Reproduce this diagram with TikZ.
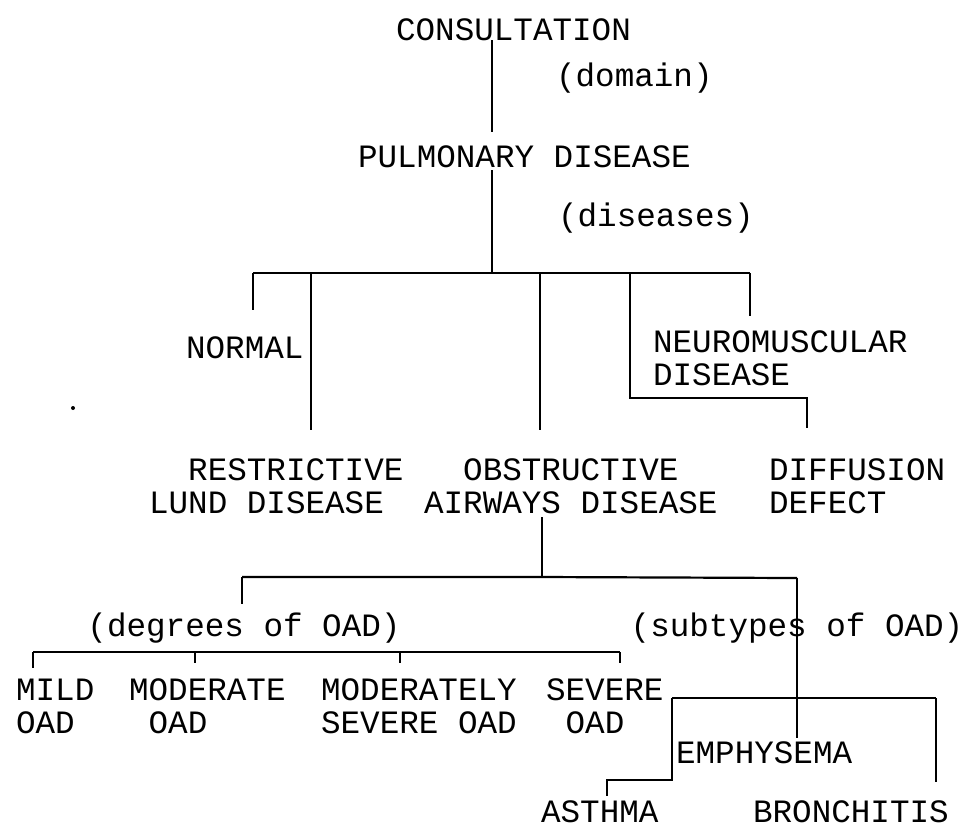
\documentclass[tikz,border=0pt]{standalone}
\usepackage{fontspec}
\newfontfamily\lpfont{Liberation Mono}
\begin{document}
\begin{tikzpicture}[x=0.5pt,y=-0.5pt,line width=1.1pt,
        lbl/.style={font=\lpfont\fontsize{16.3}{16.5}\selectfont,inner sep=0pt,anchor=west,align=left}]
    \useasboundingbox (0,0) rectangle (962,826);

    % labels
    \node[lbl] (cons) at (395,30) {CONSULTATION};
    \node[lbl] (domain) at (555,78) {(domain)};
    \node[lbl] (pulm) at (357,157) {PULMONARY DISEASE};
    \node[lbl] (diseases) at (557,218) {(diseases)};
    \node[lbl] (normal) at (185,348) {NORMAL};
    \node[lbl] (neuro) at (652,358) {NEUROMUSCULAR\\DISEASE};
    \node[lbl] (restr) at (148,486) {\phantom{XX}RESTRICTIVE\\LUND DISEASE};
    \node[lbl,align=center] (obstr) at (423,486) {OBSTRUCTIVE\\AIRWAYS DISEASE};
    \node[lbl] (diff) at (768,486) {DIFFUSION\\DEFECT};
    \node[lbl,anchor=center] (deg) at (244,628) {(degrees of OAD)};
    \node[lbl,anchor=center] (sub) at (797,628) {(subtypes of OAD)};
    \node[lbl] (mild) at (15,706) {MILD\\OAD};
    \node[lbl] (moder) at (128,706) {MODERATE\\\phantom{X}OAD};
    \node[lbl] (modsev) at (320,706) {MODERATELY\\SEVERE OAD};
    \node[lbl] (severe) at (545,706) {SEVERE\\\phantom{X}OAD};
    \node[lbl] (emph) at (675,753) {EMPHYSEMA};
    \node[lbl] (asthma) at (540,812) {ASTHMA};
    \node[lbl] (bronch) at (752,812) {BRONCHITIS};

    % top stem
    \coordinate (a1) at (492,40);
    \coordinate (a2) at (492,132);
    \coordinate (a3) at (492,170);
    \coordinate (a4) at (492,273);
    \draw (a1) -- (a2);
    \draw (a3) -- (a4);

    % diseases
    \coordinate (b1) at (253,273);
    \coordinate (b2) at (750,273);
    \coordinate (n1) at (253,310);
    \coordinate (r0) at (311,273);
    \coordinate (r1) at (311,430);
    \coordinate (o0) at (540,273);
    \coordinate (o1) at (540,430);
    \coordinate (f0) at (630,273);
    \coordinate (f1) at (630,398);
    \coordinate (f2) at (807,398);
    \coordinate (f3) at (807,428);
    \coordinate (u1) at (750,316);
    \draw (b1) -- (b2);
    \draw (b1) -- (n1);
    \draw (r0) -- (r1);
    \draw (o0) -- (o1);
    \draw (f0) -- (f1) -- (f2) -- (f3);
    \draw (b2) -- (u1);

    % OAD split
    \coordinate (c0) at (542,517);
    \coordinate (c1) at (542,577);
    \coordinate (c2) at (242,577);
    \coordinate (c3) at (797,578);
    \coordinate (c4) at (242,604);
    \coordinate (c5) at (797,698);
    \draw (c0) -- (c1);
    \draw (c2) -- (c1) -- (c3);
    \draw (c2) -- (c4);
    \draw (c3) -- (c5);

    % degrees
    \coordinate (g0) at (33,652);
    \coordinate (g1) at (195,652);
    \coordinate (g2) at (400,652);
    \coordinate (g3) at (620,652);
    \draw (g0) -- (g3);
    \draw (g0) -- (g0 |- mild.north) [shorten >=5pt];
    \draw (g1) -- (g1 |- moder.north) [shorten >=7pt];
    \draw (g2) -- (g2 |- modsev.north) [shorten >=7pt];
    \draw (g3) -- (g3 |- severe.north) [shorten >=7pt];

    % subtypes
    \coordinate (h0) at (672,698);
    \coordinate (h2) at (936,698);
    \coordinate (e1) at (797,738);
    \coordinate (h3) at (936,782);
    \coordinate (k1) at (672,780);
    \coordinate (k2) at (607,780);
    \coordinate (k3) at (607,796);
    \draw (h0) -- (h2);
    \draw (c5) -- (e1);
    \draw (h2) -- (h3);
    \draw (h0) -- (k1) -- (k2) -- (k3);

    \fill (73,408) circle (2);
\end{tikzpicture}
\end{document}
